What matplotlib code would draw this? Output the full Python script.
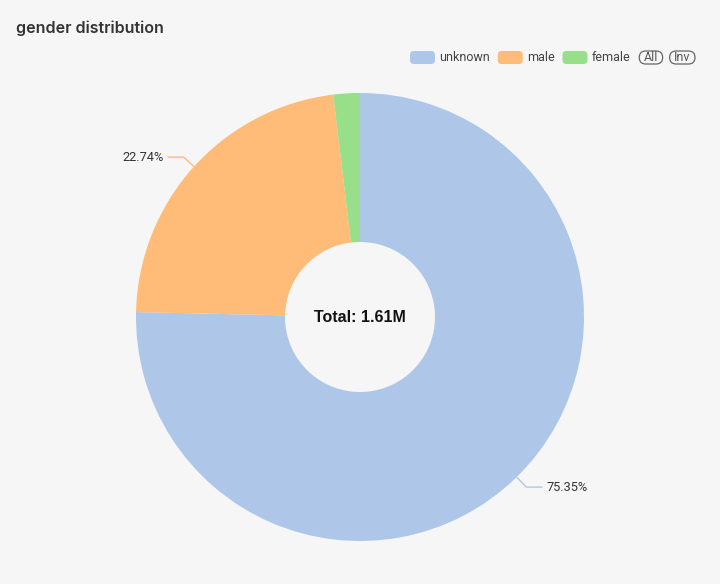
import matplotlib
matplotlib.use("Agg")
import matplotlib.pyplot as plt
from matplotlib.patches import FancyBboxPatch
import numpy as np

categories = ["unknown", "male", "female"]
shares = [75.35, 22.74, 1.91]
colors = ["#aec7e8", "#ffbb78", "#98df8a"]
show_label = [True, True, False]
title = "gender distribution"
center_text = "Total: 1.61M"
buttons = ["All", "Inv"]

W, H = 720, 584
BG = "#f6f6f6"
SMALL = ["Roboto", "DejaVu Sans"]
fig = plt.figure(figsize=(W / 100, H / 100), dpi=100, facecolor=BG)
ax = fig.add_axes([0, 0, 1, 1])

cx, cy = 360, H - 317
R = 224
r_in = 75
wedges, _ = ax.pie(shares, colors=colors, startangle=90, counterclock=False,
                   radius=R, center=(cx, cy), frame=True,
                   wedgeprops=dict(width=R - r_in, linewidth=0))
ax.set_xlim(0, W)
ax.set_ylim(0, H)
ax.set_aspect("equal")
ax.axis("off")

for w, lab, show, col in zip(wedges, shares, show_label, colors):
    if not show:
        continue
    mid = np.deg2rad((w.theta1 + w.theta2) / 2)
    x0, y0 = cx + R * np.cos(mid), cy + R * np.sin(mid)
    x1, y1 = cx + (R + 14) * np.cos(mid), cy + (R + 14) * np.sin(mid)
    sgn = 1 if np.cos(mid) >= 0 else -1
    x2 = x1 + sgn * 16
    ax.plot([x0, x1, x2], [y0, y1, y1], color=col, lw=1, solid_capstyle="butt")
    ax.text(x2 + sgn * 4, y1, f"{lab:.2f}%", ha="left" if sgn > 0 else "right",
            va="center", fontsize=9.2, color="#333333", family=SMALL)

ax.text(cx, cy, center_text, ha="center", va="center", fontsize=11.5,
        fontweight="bold", color="#111111", family="Liberation Sans")

fig.text(16 / W, 1 - 28 / H, title, ha="left", va="center", fontsize=11.5,
         fontweight="semibold", color="#333333", family="Inter")

# legend
ly = H - 57.5
x = 410
fig.canvas.draw()
for cat, col in zip(categories, colors):
    ax.add_patch(FancyBboxPatch((x, ly - 6.5), 25, 13,
                                boxstyle="round,pad=0,rounding_size=4",
                                fc=col, ec="none"))
    t = ax.text(x + 29, ly, cat, ha="left", va="center", fontsize=9,
                color="#444444", family=SMALL)
    fig.canvas.draw()
    bb = t.get_window_extent()
    x = bb.x1 + 8
x += 1
for txt in buttons:
    t = ax.text(x, ly, txt, ha="center", va="center", fontsize=9,
                color="#555555", family=SMALL)
    fig.canvas.draw()
    bb = t.get_window_extent()
    wdt = bb.width + 9
    cxp = x + wdt / 2
    t.set_x(cxp)
    ax.add_patch(FancyBboxPatch((x, ly - 6.5), wdt, 13,
                                boxstyle="round,pad=0,rounding_size=6.5",
                                fc="none", ec="#666666", lw=0.9))
    x = x + wdt + 7

fig.savefig("out.png", dpi=100, facecolor=BG)
